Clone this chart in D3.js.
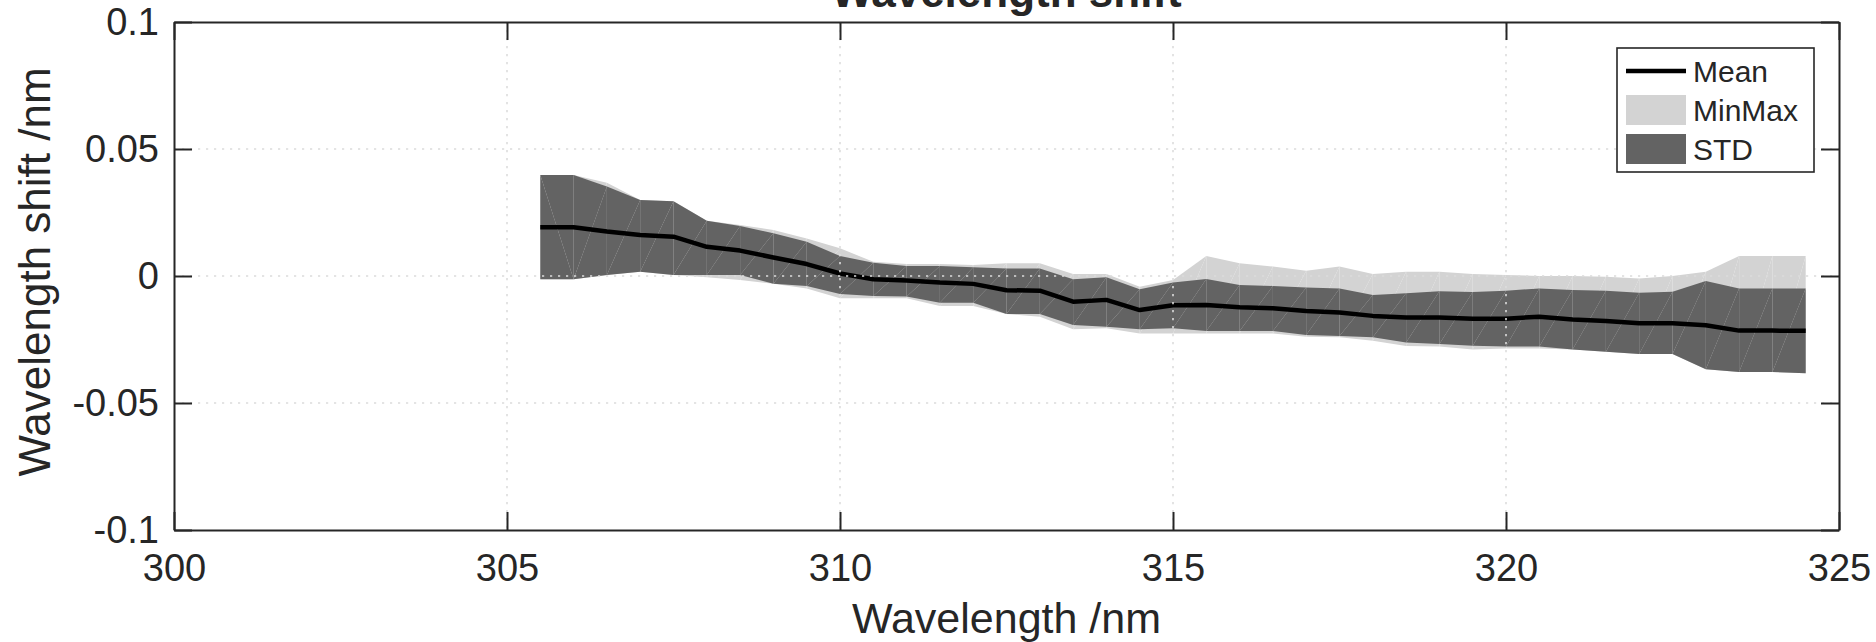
<!DOCTYPE html>
<html>
<head>
<meta charset="utf-8">
<script src="https://cdn.jsdelivr.net/npm/d3@7"></script>
<style>
  html, body { margin: 0; padding: 0; background: #fff; }
  svg { display: block; }
  text { font-family: "Liberation Sans", Arial, Helvetica, sans-serif; fill: #262626; }
</style>
</head>
<body>
<svg id="chart" width="1876" height="642"></svg>
<script>
// ---------------- data ----------------
const wavelengths = [305.5, 306, 306.5, 307, 307.5, 308, 308.5, 309, 309.5, 310,
  310.5, 311, 311.5, 312, 312.5, 313, 313.5, 314, 314.5, 315,
  315.5, 316, 316.5, 317, 317.5, 318, 318.5, 319, 319.5, 320,
  320.5, 321, 321.5, 322, 322.5, 323, 323.5, 324, 324.5];

const meanShift = [0.0192, 0.0192, 0.0175, 0.0161, 0.0155, 0.0115, 0.0100, 0.0073, 0.0047, 0.0010,
  -0.0013, -0.0018, -0.0026, -0.0031, -0.0056, -0.0058, -0.0101, -0.0094, -0.0134, -0.0115,
  -0.0114, -0.0123, -0.0127, -0.0138, -0.0144, -0.0157, -0.0163, -0.0163, -0.0168, -0.0168,
  -0.0160, -0.0171, -0.0177, -0.0186, -0.0186, -0.0194, -0.0215, -0.0215, -0.0216];

const stdUpper = [0.0398, 0.0398, 0.0352, 0.0299, 0.0294, 0.0218, 0.0197, 0.0168, 0.0135, 0.0079,
  0.0052, 0.0039, 0.0039, 0.0034, 0.0030, 0.0030, -0.0013, -0.0005, -0.0052, -0.0026,
  -0.0012, -0.0035, -0.0039, -0.0045, -0.0049, -0.0075, -0.0068, -0.0060, -0.0063, -0.0058,
  -0.0049, -0.0055, -0.0058, -0.0066, -0.0062, -0.0020, -0.0049, -0.0049, -0.0049];

const stdLower = [-0.0013, -0.0013, 0.0004, 0.0017, 0.0004, 0.0004, 0.0004, -0.0031, -0.0039, -0.0071,
  -0.0079, -0.0081, -0.0105, -0.0105, -0.0150, -0.0150, -0.0193, -0.0200, -0.0210, -0.0206,
  -0.0217, -0.0217, -0.0217, -0.0232, -0.0236, -0.0241, -0.0262, -0.0268, -0.0275, -0.0278,
  -0.0278, -0.0289, -0.0298, -0.0307, -0.0307, -0.0367, -0.0378, -0.0378, -0.0383];

const maxShift = [0.0398, 0.0398, 0.0367, 0.0299, 0.0294, 0.0218, 0.0201, 0.0181, 0.0148, 0.0109,
  0.0056, 0.0047, 0.0047, 0.0043, 0.0050, 0.0050, 0.0008, 0.0008, -0.0042, -0.0016,
  0.0079, 0.0050, 0.0037, 0.0021, 0.0037, 0.0008, 0.0017, 0.0017, 0.0008, 0.0004,
  0.0000, 0.0000, -0.0003, -0.0010, 0.0000, 0.0017, 0.0079, 0.0079, 0.0079];

const minShift = [-0.0013, -0.0013, 0.0004, 0.0017, 0.0004, -0.0005, -0.0016, -0.0031, -0.0049, -0.0088,
  -0.0088, -0.0088, -0.0118, -0.0118, -0.0150, -0.0160, -0.0210, -0.0206, -0.0226, -0.0226,
  -0.0226, -0.0226, -0.0226, -0.0239, -0.0241, -0.0255, -0.0276, -0.0278, -0.0289, -0.0285,
  -0.0285, -0.0289, -0.0298, -0.0307, -0.0307, -0.0367, -0.0378, -0.0378, -0.0383];

const xTicks = [300, 305, 310, 315, 320, 325];
const yTicks = [-0.1, -0.05, 0, 0.05, 0.1];
const yTickLabels = ["-0.1", "-0.05", "0", "0.05", "0.1"];
const legendLabels = ["Mean", "MinMax", "STD"];
const titleText = "Wavelength shift";
const xLabelText = "Wavelength /nm";
const yLabelText = "Wavelength shift /nm";

// ---------------- layout ----------------
const svg = d3.select("#chart");
const L = 174, R = 1839, T = 22, B = 530;
const axisColor = "#262626";
const stdColor = "#636363";
const minmaxColor = "#d3d3d3";

const x = d3.scaleLinear().domain([300, 325]).range([L, R]);
const y = d3.scaleLinear().domain([-0.1, 0.1]).range([B, T]);

// ---------------- filled bands as triangle strips ----------------
function band(upper, lower, color, cls) {
  const tris = [];
  for (let i = 0; i < wavelengths.length - 1; i++) {
    const x0 = x(wavelengths[i]), x1 = x(wavelengths[i + 1]);
    const u0 = y(upper[i]), u1 = y(upper[i + 1]);
    const l0 = y(lower[i]), l1 = y(lower[i + 1]);
    if (i === 0) {
      tris.push([[x0, u0], [x1, u1], [x1, l1]]);
      tris.push([[x0, u0], [x1, l1], [x0, l0]]);
    } else {
      tris.push([[x0, u0], [x1, u1], [x0, l0]]);
      tris.push([[x0, l0], [x1, u1], [x1, l1]]);
    }
  }
  svg.append("g").attr("class", cls)
    .selectAll("path").data(tris).join("path")
    .attr("d", d => "M" + d.map(p => p.join(",")).join("L") + "Z")
    .attr("fill", color)
    .attr("stroke", "none");
}
band(maxShift, minShift, minmaxColor, "minmax");
band(stdUpper, stdLower, stdColor, "std");

// ---------------- mean line ----------------
const line = d3.line().x((d, i) => x(wavelengths[i])).y(d => y(d));
svg.append("path")
  .datum(meanShift)
  .attr("d", line)
  .attr("fill", "none")
  .attr("stroke", "#000")
  .attr("stroke-width", 4.5)
  .attr("stroke-linejoin", "round");

// ---------------- grid (on top, dotted) ----------------
const grid = svg.append("g").attr("class", "grid");
grid.selectAll("line.gx").data(xTicks.slice(1, -1)).join("line")
  .attr("x1", d => x(d)).attr("x2", d => x(d))
  .attr("y1", T).attr("y2", B)
  .attr("stroke", "#dcdcdc").attr("stroke-width", 1.6)
  .attr("stroke-dasharray", "2.2,5.8");
grid.selectAll("line.gy").data(yTicks.slice(1, -1)).join("line")
  .attr("x1", L).attr("x2", R)
  .attr("y1", d => y(d)).attr("y2", d => y(d))
  .attr("stroke", "#dcdcdc").attr("stroke-width", 1.6)
  .attr("stroke-dasharray", "2.2,5.8");

// ---------------- axes ----------------
const tickLen = 18;
const gx = svg.append("g").attr("transform", `translate(0,${B})`)
  .call(d3.axisBottom(x).tickValues(xTicks).tickFormat(d3.format("d"))
    .tickSizeInner(-tickLen).tickSizeOuter(0).tickPadding(24));
const gy = svg.append("g").attr("transform", `translate(${L},0)`)
  .call(d3.axisLeft(y).tickValues(yTicks).tickFormat((d, i) => yTickLabels[i])
    .tickSizeInner(-tickLen).tickSizeOuter(0).tickPadding(15));
const gt = svg.append("g").attr("transform", `translate(0,${T})`)
  .call(d3.axisTop(x).tickValues(xTicks).tickFormat("")
    .tickSizeInner(-tickLen).tickSizeOuter(0));
const gr = svg.append("g").attr("transform", `translate(${R},0)`)
  .call(d3.axisRight(y).tickValues(yTicks).tickFormat("")
    .tickSizeInner(-tickLen).tickSizeOuter(0));

[gx, gy, gt, gr].forEach(g => {
  g.select(".domain").attr("stroke", axisColor).attr("stroke-width", 2);
  g.selectAll(".tick line").attr("stroke", axisColor).attr("stroke-width", 2);
  g.selectAll(".tick text")
    .attr("fill", axisColor)
    .style("font-family", '"Liberation Sans", Arial, sans-serif')
    .style("font-size", "38px");
});

// ---------------- labels ----------------
svg.append("text")
  .attr("x", (L + R) / 2).attr("y", 7)
  .attr("text-anchor", "middle")
  .style("font-size", "44px").style("font-weight", "bold")
  .text(titleText);

svg.append("text")
  .attr("x", (L + R) / 2).attr("y", 633)
  .attr("text-anchor", "middle")
  .style("font-size", "43px")
  .text(xLabelText);

svg.append("text")
  .attr("transform", `translate(50,${(T + B) / 2 - 4}) rotate(-90)`)
  .attr("text-anchor", "middle")
  .style("font-size", "44px")
  .text(yLabelText);

// ---------------- legend ----------------
const lg = svg.append("g").attr("class", "legend");
lg.append("rect")
  .attr("x", 1617).attr("y", 48).attr("width", 197).attr("height", 124)
  .attr("fill", "#fff").attr("stroke", axisColor).attr("stroke-width", 1.6);
const rowY = [71, 110, 149];
lg.append("line")
  .attr("x1", 1626).attr("x2", 1686).attr("y1", rowY[0]).attr("y2", rowY[0])
  .attr("stroke", "#000").attr("stroke-width", 4.5);
lg.append("rect").attr("x", 1626).attr("y", rowY[1] - 15).attr("width", 60).attr("height", 30)
  .attr("fill", minmaxColor);
lg.append("rect").attr("x", 1626).attr("y", rowY[2] - 15).attr("width", 60).attr("height", 30)
  .attr("fill", stdColor);
lg.selectAll("text").data(legendLabels).join("text")
  .attr("x", 1693).attr("y", (d, i) => rowY[i])
  .attr("dy", "0.35em")
  .style("font-size", "30px")
  .text(d => d);
</script>
</body>
</html>
